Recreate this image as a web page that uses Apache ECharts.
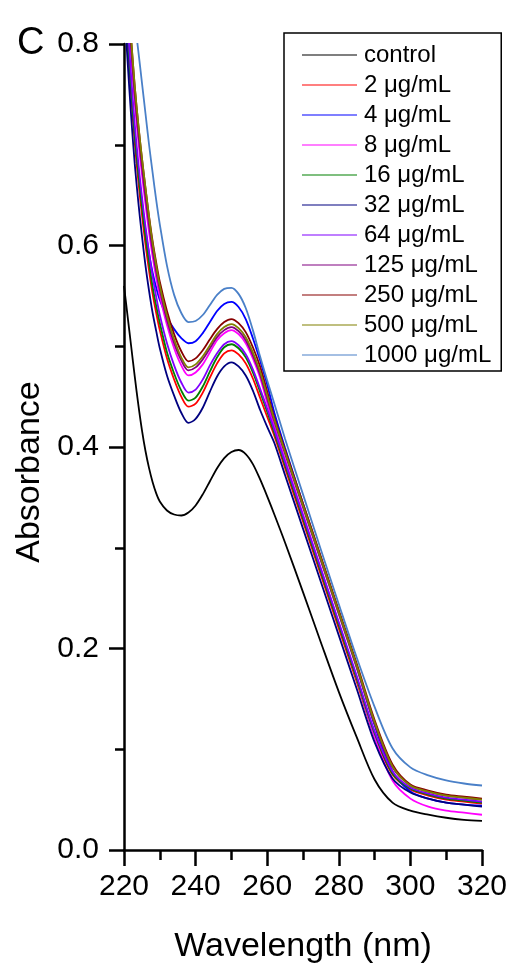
<!DOCTYPE html>
<html>
<head>
<meta charset="utf-8">
<script src="https://cdn.jsdelivr.net/npm/echarts@6/dist/echarts.min.js"></script>
<style>
html,body{margin:0;padding:0;background:#fff;}
#chart{width:511px;height:969px;}
</style>
</head>
<body>
<div id="chart"></div>
<script>
const wavelengths = [220,221,222,223,224,225,226,227,228,229,230,232,234,236,238,240,242,244,246,248,250,252,254,256,258,260,262,265,270,275,280,285,290,295,300,305,310,315,320];

const seriesNames = ['control','2 μg/mL','4 μg/mL','8 μg/mL','16 μg/mL','32 μg/mL','64 μg/mL','125 μg/mL','250 μg/mL','500 μg/mL','1000 μg/mL'];

const control = [.560,.530,.500,.470,.442,.417,.396,.379,.365,.354,.346,.337,.333,.332,.335,.342,.353,.366,.379,.389,.395,.397,.393,.383,.368,.351,.333,.305,.256,.206,.157,.112,.070,.047,.039,.035,.032,.030,.029];
const ug2 = [.864,.804,.749,.702,.664,.631,.601,.575,.552,.533,.516,.488,.467,.450,.440,.443,.454,.469,.483,.493,.496,.492,.483,.468,.449,.430,.411,.379,.326,.273,.220,.167,.113,.075,.060,.054,.050,.048,.046];
const ug4 = [.870,.810,.757,.712,.675,.643,.615,.592,.573,.558,.546,.529,.517,.508,.503,.505,.513,.524,.535,.542,.544,.539,.527,.508,.486,.462,.434,.399,.344,.290,.236,.182,.124,.078,.058,.051,.047,.045,.044];
const ug8 = [.904,.844,.789,.742,.704,.671,.641,.613,.589,.568,.550,.521,.498,.481,.471,.474,.482,.494,.506,.513,.516,.512,.503,.488,.469,.444,.420,.387,.333,.279,.225,.170,.112,.069,.051,.043,.039,.037,.035];
const ug16 = [.872,.812,.757,.710,.672,.639,.609,.583,.559,.540,.523,.494,.473,.456,.446,.449,.460,.475,.489,.499,.502,.498,.489,.474,.455,.435,.414,.382,.329,.276,.223,.170,.116,.076,.061,.055,.051,.049,.047];
const ug32 = [.843,.783,.728,.681,.643,.610,.580,.555,.533,.515,.498,.471,.451,.434,.424,.428,.439,.455,.470,.480,.484,.480,.471,.456,.437,.420,.404,.372,.319,.266,.213,.160,.107,.071,.057,.051,.047,.045,.043];
const ug64 = [.882,.822,.767,.720,.682,.649,.619,.593,.569,.549,.531,.503,.481,.464,.454,.457,.467,.481,.493,.502,.505,.501,.492,.477,.458,.438,.417,.385,.332,.279,.226,.173,.118,.078,.062,.056,.052,.050,.048];
const ug125 = [.911,.851,.796,.749,.711,.678,.648,.620,.595,.574,.556,.526,.503,.486,.476,.479,.487,.498,.509,.516,.519,.515,.506,.491,.472,.448,.425,.393,.340,.287,.234,.181,.125,.082,.064,.058,.054,.052,.050];
const ug250 = [.920,.860,.805,.758,.720,.687,.657,.629,.604,.583,.564,.535,.512,.495,.485,.488,.496,.507,.517,.524,.527,.523,.514,.499,.480,.455,.429,.397,.344,.291,.238,.185,.129,.085,.065,.059,.055,.053,.051];
const ug500 = [.920,.860,.805,.758,.720,.687,.657,.628,.602,.580,.560,.530,.507,.489,.479,.482,.490,.501,.512,.519,.522,.518,.509,.494,.475,.451,.427,.395,.342,.289,.236,.183,.127,.083,.064,.058,.054,.052,.050];
const ug1000 = [.930,.890,.855,.823,.793,.762,.731,.700,.672,.645,.621,.580,.551,.533,.524,.525,.531,.541,.551,.557,.558,.552,.538,.516,.490,.466,.443,.408,.353,.298,.244,.191,.142,.101,.082,.074,.069,.066,.064];

const xTicks = [220,240,260,280,300,320];
const yTickLabels = ['0.0','0.2','0.4','0.6','0.8'];

const seriesValues = [control,ug2,ug4,ug8,ug16,ug32,ug64,ug125,ug250,ug500,ug1000];
const colors = ['#000000','#ff0000','#0000ff','#ff00ff','#008000','#000080','#8000ff','#800080','#880000','#808000','#4a80c8'];

const FONT = '"Liberation Sans", Arial, sans-serif';

const chart = echarts.init(document.getElementById('chart'), null, {renderer:'canvas'});
chart.setOption({
  backgroundColor:'#ffffff',
  animation:false,
  grid:{left:124,right:29,top:44,bottom:116,containLabel:false},
  legend:{
    orient:'vertical',
    left:284, top:33,
    data:seriesNames,
    borderColor:'#000', borderWidth:1.5,
    padding:[10,10,4,18],
    itemWidth:55, itemHeight:14, itemGap:6,
    icon:'path://M0,6.4 L55,6.4 L55,7.6 L0,7.6 Z',
    textStyle:{fontSize:24, lineHeight:24, color:'#000', fontFamily:FONT, padding:[0,0,0,2]}
  },
  xAxis:{
    type:'value', min:220, max:320, interval:20,
    name:'Wavelength (nm)', nameLocation:'middle', nameGap:80,
    nameTextStyle:{fontSize:34, color:'#000', fontFamily:FONT},
    axisLine:{lineStyle:{color:'#000',width:2.5}},
    axisTick:{show:true,length:16,lineStyle:{color:'#000',width:2.5}},
    minorTick:{show:true,splitNumber:2,length:10,lineStyle:{color:'#000',width:2.5}},
    splitLine:{show:false},
    axisLabel:{fontSize:30,color:'#000',fontFamily:FONT,margin:22,
      formatter:function(v){return xTicks.indexOf(v)>=0 ? String(v) : '';}}
  },
  yAxis:{
    type:'value', min:0, max:0.8, interval:0.2,
    axisLine:{show:true,lineStyle:{color:'#000',width:2.5}},
    axisTick:{show:true,length:15,lineStyle:{color:'#000',width:2.5}},
    minorTick:{show:true,splitNumber:2,length:9,lineStyle:{color:'#000',width:2.5}},
    splitLine:{show:false},
    axisLabel:{fontSize:30,color:'#000',fontFamily:FONT,margin:25,
      formatter:function(v){return yTickLabels[Math.round(v/0.2)];}}
  },
  graphic:[
    {type:'text', left:17, top:25, style:{text:'C', fontSize:38, fill:'#000', fontFamily:FONT}},
    {type:'text', x:30, y:472, rotation:Math.PI/2,
     style:{text:'Absorbance', fontSize:34, fill:'#000', fontFamily:FONT, textAlign:'center', textVerticalAlign:'middle'}}
  ],
  series: seriesNames.map(function(name,i){
    return {
      name:name, type:'line',
      data: wavelengths.map(function(w,j){return [w, seriesValues[i][j]];}),
      showSymbol:false, symbol:'none', smooth:0.3, clip:true,
      lineStyle:{color:colors[i], width:1.8},
      itemStyle:{color:colors[i]}
    };
  })
});
</script>
</body>
</html>
